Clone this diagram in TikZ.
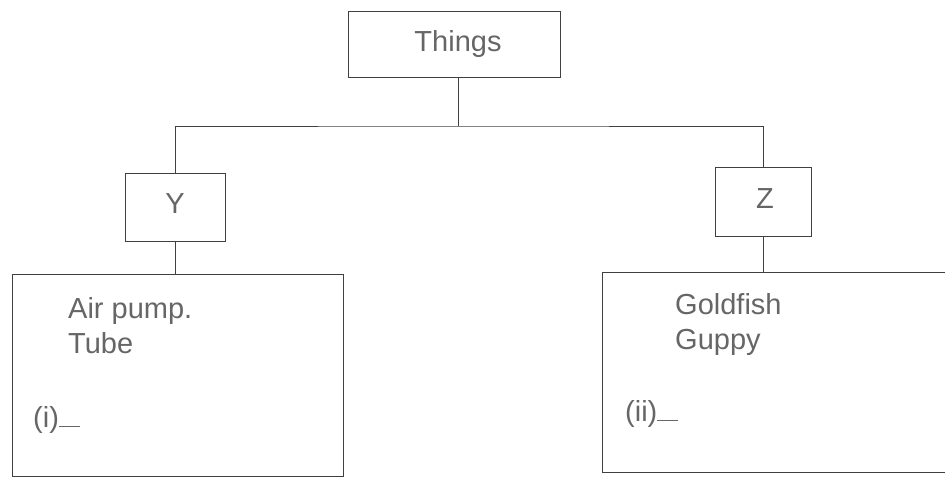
\documentclass[tikz,border=0pt]{standalone}
\usepackage{fontspec}
\setmainfont{Liberation Sans}
\begin{document}
\begin{tikzpicture}[x=1pt,y=-1pt,
    boite/.style={draw=black!75,line width=0.9pt,inner sep=0pt},
    texte/.style={text=black!60,anchor=base west,inner sep=0pt,font=\fontsize{29}{34}\selectfont}]
    \useasboundingbox (0,0) rectangle (945,479);
    \node[boite,minimum width=212pt,minimum height=66pt] (things) at (454,44) {};
    \node[texte,anchor=base] (tthings) at (458,51) {Things};
    \node[boite,minimum width=100pt,minimum height=68pt] (y) at (175,207) {};
    \node[texte,anchor=base] (ty) at (175,213) {Y};
    \node[boite,minimum width=96pt,minimum height=69pt] (z) at (763,201.5) {};
    \node[texte,anchor=base] (tz) at (765,208) {Z};
    \node[boite,minimum width=331pt,minimum height=202pt] (gauche) at (177.5,375) {};
    \node[boite,minimum width=346pt,minimum height=200pt] (droite) at (775,372) {};
    \node[texte] (air) at (68,318) {Air pump.};
    \node[texte] (tube) at (68,353) {Tube};
    \node[texte] (i) at (33,427) {(i)\rule{21pt}{0.6pt}};
    \node[texte] (gold) at (675,314) {Goldfish};
    \node[texte] (guppy) at (675,349) {Guppy};
    \node[texte] (ii) at (625,421) {(ii)\rule{21pt}{0.6pt}};
    \coordinate (nd) at (458,126);
    \draw[black!75,line width=0.9pt] (things.south -| nd) -- (nd);
    \draw[black!75,line width=0.9pt] (y.north) |- (nd) -| (z.north);
    \draw[black!75,line width=0.9pt] (y.south) -- (y.south |- gauche.north);
    \draw[black!75,line width=0.9pt] (z.south) -- (z.south |- droite.north);
\end{tikzpicture}
\end{document}
